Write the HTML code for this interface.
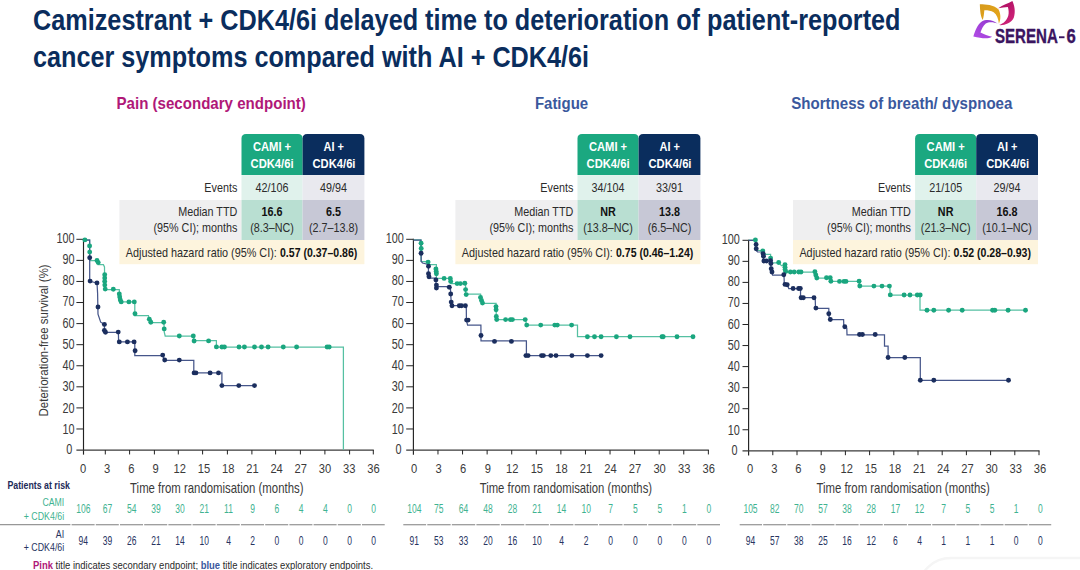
<!DOCTYPE html>
<html><head><meta charset="utf-8"><title>SERENA-6 patient-reported symptoms</title>
<style>
html,body{margin:0;padding:0;background:#fff;}
body{width:1080px;height:570px;overflow:hidden;font-family:"Liberation Sans",sans-serif;}
svg{display:block;font-family:"Liberation Sans",sans-serif;}
text{white-space:pre;}
</style></head><body>
<svg width="1080" height="570" viewBox="0 0 1080 570">
<rect width="1080" height="570" fill="#fff"/>
<text transform="translate(33.00 30.20) scale(0.8305 1)" font-size="30.4" font-weight="bold" fill="#0a2d5d">Camizestrant + CDK4/6i delayed time to deterioration of patient-reported</text>
<text transform="translate(33.00 67.20) scale(0.8298 1)" font-size="30.4" font-weight="bold" fill="#0a2d5d">cancer symptoms compared with AI + CDK4/6i</text>
<text transform="translate(116.50 109.20) scale(0.9551 1)" font-size="15.8" font-weight="bold" fill="#b01878">Pain (secondary endpoint)</text>
<text transform="translate(534.90 109.20) scale(0.9487 1)" font-size="15.8" font-weight="bold" fill="#3a589d">Fatigue</text>
<text transform="translate(791.20 109.20) scale(0.9548 1)" font-size="15.8" font-weight="bold" fill="#3a589d">Shortness of breath/ dyspnoea</text>
<path d="M241.50 175.1 V138.40 Q241.50 133.9 246.00 133.9 H298.10 Q302.60 133.9 302.60 138.40 V175.1 Z" fill="#1ba880"/>
<path d="M302.60 175.1 V138.40 Q302.60 133.9 307.10 133.9 H359.90 Q364.40 133.9 364.40 138.40 V175.1 Z" fill="#0a2d5d"/>
<rect x="241.50" y="175.10" width="61.10" height="24.90" fill="#e0f2ec"/>
<rect x="302.60" y="175.10" width="61.80" height="24.90" fill="#e9e9ef"/>
<rect x="119.40" y="200.00" width="122.10" height="40.00" fill="#efeff0"/>
<rect x="241.50" y="200.00" width="61.10" height="40.00" fill="#b9dfd2"/>
<rect x="302.60" y="200.00" width="61.80" height="40.00" fill="#c7c8d6"/>
<rect x="119.40" y="240.00" width="245.00" height="24.20" fill="#fdf4dd"/>
<text transform="translate(272.05 151.20) scale(0.8469 1)" font-size="13.2" font-weight="bold" text-anchor="middle" fill="#fff">CAMI +</text>
<text transform="translate(272.05 167.70) scale(0.8495 1)" font-size="13.2" font-weight="bold" text-anchor="middle" fill="#fff">CDK4/6i</text>
<text transform="translate(333.70 151.20) scale(0.8301 1)" font-size="13.2" font-weight="bold" text-anchor="middle" fill="#fff">AI +</text>
<text transform="translate(334.00 167.70) scale(0.8495 1)" font-size="13.2" font-weight="bold" text-anchor="middle" fill="#fff">CDK4/6i</text>
<text transform="translate(237.30 191.90) scale(0.8420 1)" font-size="12.8" text-anchor="end" fill="#2b2b2b">Events</text>
<text transform="translate(272.05 191.90) scale(0.8420 1)" font-size="12.8" text-anchor="middle" fill="#2b2b2b">42/106</text>
<text transform="translate(333.50 191.90) scale(0.8420 1)" font-size="12.8" text-anchor="middle" fill="#2b2b2b">49/94</text>
<text transform="translate(237.30 215.80) scale(0.8420 1)" font-size="12.8" text-anchor="end" fill="#2b2b2b">Median TTD</text>
<text transform="translate(237.30 231.90) scale(0.8420 1)" font-size="12.8" text-anchor="end" fill="#2b2b2b">(95% CI); months</text>
<text transform="translate(272.05 215.80) scale(0.8420 1)" font-size="12.8" font-weight="bold" text-anchor="middle" fill="#111">16.6</text>
<text transform="translate(333.50 215.80) scale(0.8420 1)" font-size="12.8" font-weight="bold" text-anchor="middle" fill="#111">6.5</text>
<text transform="translate(272.05 231.90) scale(0.8420 1)" font-size="12.8" text-anchor="middle" fill="#2b2b2b">(8.3–NC)</text>
<text transform="translate(333.50 231.90) scale(0.8420 1)" font-size="12.8" text-anchor="middle" fill="#2b2b2b">(2.7–13.8)</text>
<text transform="translate(125.80 256.80) scale(0.8466 1)" font-size="12.8" fill="#2b2b2b">Adjusted hazard ratio (95% CI): </text>
<text transform="translate(280.00 256.80) scale(0.8229 1)" font-size="12.8" font-weight="bold" fill="#111">0.57 (0.37–0.86)</text>
<path d="M577.50 175.1 V138.40 Q577.50 133.9 582.00 133.9 H634.10 Q638.60 133.9 638.60 138.40 V175.1 Z" fill="#1ba880"/>
<path d="M638.60 175.1 V138.40 Q638.60 133.9 643.10 133.9 H695.90 Q700.40 133.9 700.40 138.40 V175.1 Z" fill="#0a2d5d"/>
<rect x="577.50" y="175.10" width="61.10" height="24.90" fill="#e0f2ec"/>
<rect x="638.60" y="175.10" width="61.80" height="24.90" fill="#e9e9ef"/>
<rect x="455.40" y="200.00" width="122.10" height="40.00" fill="#efeff0"/>
<rect x="577.50" y="200.00" width="61.10" height="40.00" fill="#b9dfd2"/>
<rect x="638.60" y="200.00" width="61.80" height="40.00" fill="#c7c8d6"/>
<rect x="455.40" y="240.00" width="245.00" height="24.20" fill="#fdf4dd"/>
<text transform="translate(608.05 151.20) scale(0.8469 1)" font-size="13.2" font-weight="bold" text-anchor="middle" fill="#fff">CAMI +</text>
<text transform="translate(608.05 167.70) scale(0.8495 1)" font-size="13.2" font-weight="bold" text-anchor="middle" fill="#fff">CDK4/6i</text>
<text transform="translate(669.70 151.20) scale(0.8301 1)" font-size="13.2" font-weight="bold" text-anchor="middle" fill="#fff">AI +</text>
<text transform="translate(670.00 167.70) scale(0.8495 1)" font-size="13.2" font-weight="bold" text-anchor="middle" fill="#fff">CDK4/6i</text>
<text transform="translate(573.30 191.90) scale(0.8420 1)" font-size="12.8" text-anchor="end" fill="#2b2b2b">Events</text>
<text transform="translate(608.05 191.90) scale(0.8420 1)" font-size="12.8" text-anchor="middle" fill="#2b2b2b">34/104</text>
<text transform="translate(669.50 191.90) scale(0.8420 1)" font-size="12.8" text-anchor="middle" fill="#2b2b2b">33/91</text>
<text transform="translate(573.30 215.80) scale(0.8420 1)" font-size="12.8" text-anchor="end" fill="#2b2b2b">Median TTD</text>
<text transform="translate(573.30 231.90) scale(0.8420 1)" font-size="12.8" text-anchor="end" fill="#2b2b2b">(95% CI); months</text>
<text transform="translate(608.05 215.80) scale(0.8420 1)" font-size="12.8" font-weight="bold" text-anchor="middle" fill="#111">NR</text>
<text transform="translate(669.50 215.80) scale(0.8420 1)" font-size="12.8" font-weight="bold" text-anchor="middle" fill="#111">13.8</text>
<text transform="translate(608.05 231.90) scale(0.8420 1)" font-size="12.8" text-anchor="middle" fill="#2b2b2b">(13.8–NC)</text>
<text transform="translate(669.50 231.90) scale(0.8420 1)" font-size="12.8" text-anchor="middle" fill="#2b2b2b">(6.5–NC)</text>
<text transform="translate(461.80 256.80) scale(0.8466 1)" font-size="12.8" fill="#2b2b2b">Adjusted hazard ratio (95% CI): </text>
<text transform="translate(616.00 256.80) scale(0.8229 1)" font-size="12.8" font-weight="bold" fill="#111">0.75 (0.46–1.24)</text>
<path d="M915.10 175.1 V138.40 Q915.10 133.9 919.60 133.9 H971.70 Q976.20 133.9 976.20 138.40 V175.1 Z" fill="#1ba880"/>
<path d="M976.20 175.1 V138.40 Q976.20 133.9 980.70 133.9 H1033.50 Q1038.00 133.9 1038.00 138.40 V175.1 Z" fill="#0a2d5d"/>
<rect x="915.10" y="175.10" width="61.10" height="24.90" fill="#e0f2ec"/>
<rect x="976.20" y="175.10" width="61.80" height="24.90" fill="#e9e9ef"/>
<rect x="793.00" y="200.00" width="122.10" height="40.00" fill="#efeff0"/>
<rect x="915.10" y="200.00" width="61.10" height="40.00" fill="#b9dfd2"/>
<rect x="976.20" y="200.00" width="61.80" height="40.00" fill="#c7c8d6"/>
<rect x="793.00" y="240.00" width="245.00" height="24.20" fill="#fdf4dd"/>
<text transform="translate(945.65 151.20) scale(0.8469 1)" font-size="13.2" font-weight="bold" text-anchor="middle" fill="#fff">CAMI +</text>
<text transform="translate(945.65 167.70) scale(0.8495 1)" font-size="13.2" font-weight="bold" text-anchor="middle" fill="#fff">CDK4/6i</text>
<text transform="translate(1007.30 151.20) scale(0.8301 1)" font-size="13.2" font-weight="bold" text-anchor="middle" fill="#fff">AI +</text>
<text transform="translate(1007.60 167.70) scale(0.8495 1)" font-size="13.2" font-weight="bold" text-anchor="middle" fill="#fff">CDK4/6i</text>
<text transform="translate(910.90 191.90) scale(0.8420 1)" font-size="12.8" text-anchor="end" fill="#2b2b2b">Events</text>
<text transform="translate(945.65 191.90) scale(0.8420 1)" font-size="12.8" text-anchor="middle" fill="#2b2b2b">21/105</text>
<text transform="translate(1007.10 191.90) scale(0.8420 1)" font-size="12.8" text-anchor="middle" fill="#2b2b2b">29/94</text>
<text transform="translate(910.90 215.80) scale(0.8420 1)" font-size="12.8" text-anchor="end" fill="#2b2b2b">Median TTD</text>
<text transform="translate(910.90 231.90) scale(0.8420 1)" font-size="12.8" text-anchor="end" fill="#2b2b2b">(95% CI); months</text>
<text transform="translate(945.65 215.80) scale(0.8420 1)" font-size="12.8" font-weight="bold" text-anchor="middle" fill="#111">NR</text>
<text transform="translate(1007.10 215.80) scale(0.8420 1)" font-size="12.8" font-weight="bold" text-anchor="middle" fill="#111">16.8</text>
<text transform="translate(945.65 231.90) scale(0.8420 1)" font-size="12.8" text-anchor="middle" fill="#2b2b2b">(21.3–NC)</text>
<text transform="translate(1007.10 231.90) scale(0.8420 1)" font-size="12.8" text-anchor="middle" fill="#2b2b2b">(10.1–NC)</text>
<text transform="translate(799.40 256.80) scale(0.8466 1)" font-size="12.8" fill="#2b2b2b">Adjusted hazard ratio (95% CI): </text>
<text transform="translate(953.60 256.80) scale(0.8229 1)" font-size="12.8" font-weight="bold" fill="#111">0.52 (0.28–0.93)</text>
<line x1="83.50" y1="238.80" x2="83.50" y2="454.65" stroke="#222" stroke-width="1.15"/>
<line x1="76.40" y1="450.05" x2="373.80" y2="450.05" stroke="#3a3a3a" stroke-width="1.35"/>
<text transform="translate(72.40 453.80) scale(0.7500 1)" font-size="14.5" text-anchor="end" fill="#3a3a3a">0</text>
<line x1="76.40" y1="428.98" x2="83.50" y2="428.98" stroke="#222" stroke-width="1.0"/>
<text transform="translate(74.60 433.94) scale(0.7500 1)" font-size="14.5" text-anchor="end" fill="#3a3a3a">10</text>
<line x1="76.40" y1="407.90" x2="83.50" y2="407.90" stroke="#222" stroke-width="1.0"/>
<text transform="translate(74.60 412.67) scale(0.7500 1)" font-size="14.5" text-anchor="end" fill="#3a3a3a">20</text>
<line x1="76.40" y1="386.82" x2="83.50" y2="386.82" stroke="#222" stroke-width="1.0"/>
<text transform="translate(74.60 391.40) scale(0.7500 1)" font-size="14.5" text-anchor="end" fill="#3a3a3a">30</text>
<line x1="76.40" y1="365.75" x2="83.50" y2="365.75" stroke="#222" stroke-width="1.0"/>
<text transform="translate(74.60 370.14) scale(0.7500 1)" font-size="14.5" text-anchor="end" fill="#3a3a3a">40</text>
<line x1="76.40" y1="344.68" x2="83.50" y2="344.68" stroke="#222" stroke-width="1.0"/>
<text transform="translate(74.60 348.88) scale(0.7500 1)" font-size="14.5" text-anchor="end" fill="#3a3a3a">50</text>
<line x1="76.40" y1="323.60" x2="83.50" y2="323.60" stroke="#222" stroke-width="1.0"/>
<text transform="translate(74.60 327.61) scale(0.7500 1)" font-size="14.5" text-anchor="end" fill="#3a3a3a">60</text>
<line x1="76.40" y1="302.52" x2="83.50" y2="302.52" stroke="#222" stroke-width="1.0"/>
<text transform="translate(74.60 306.34) scale(0.7500 1)" font-size="14.5" text-anchor="end" fill="#3a3a3a">70</text>
<line x1="76.40" y1="281.45" x2="83.50" y2="281.45" stroke="#222" stroke-width="1.0"/>
<text transform="translate(74.60 285.08) scale(0.7500 1)" font-size="14.5" text-anchor="end" fill="#3a3a3a">80</text>
<line x1="76.40" y1="260.38" x2="83.50" y2="260.38" stroke="#222" stroke-width="1.0"/>
<text transform="translate(74.60 263.81) scale(0.7500 1)" font-size="14.5" text-anchor="end" fill="#3a3a3a">90</text>
<line x1="76.40" y1="239.30" x2="83.50" y2="239.30" stroke="#222" stroke-width="1.0"/>
<text transform="translate(74.60 242.55) scale(0.7500 1)" font-size="14.5" text-anchor="end" fill="#3a3a3a">100</text>
<text transform="translate(83.00 473.00) scale(0.8400 1)" font-size="13.3" text-anchor="middle" fill="#3a3a3a">0</text>
<line x1="105.30" y1="450.05" x2="105.30" y2="454.45" stroke="#222" stroke-width="1.0"/>
<text transform="translate(107.20 473.00) scale(0.8400 1)" font-size="13.3" text-anchor="middle" fill="#3a3a3a">3</text>
<line x1="129.60" y1="450.05" x2="129.60" y2="454.45" stroke="#222" stroke-width="1.0"/>
<text transform="translate(131.40 473.00) scale(0.8400 1)" font-size="13.3" text-anchor="middle" fill="#3a3a3a">6</text>
<line x1="154.40" y1="450.05" x2="154.40" y2="454.45" stroke="#222" stroke-width="1.0"/>
<text transform="translate(155.60 473.00) scale(0.8400 1)" font-size="13.3" text-anchor="middle" fill="#3a3a3a">9</text>
<line x1="178.30" y1="450.05" x2="178.30" y2="454.45" stroke="#222" stroke-width="1.0"/>
<text transform="translate(179.80 473.00) scale(0.8400 1)" font-size="13.3" text-anchor="middle" fill="#3a3a3a">12</text>
<line x1="202.60" y1="450.05" x2="202.60" y2="454.45" stroke="#222" stroke-width="1.0"/>
<text transform="translate(204.00 473.00) scale(0.8400 1)" font-size="13.3" text-anchor="middle" fill="#3a3a3a">15</text>
<line x1="227.40" y1="450.05" x2="227.40" y2="454.45" stroke="#222" stroke-width="1.0"/>
<text transform="translate(228.20 473.00) scale(0.8400 1)" font-size="13.3" text-anchor="middle" fill="#3a3a3a">18</text>
<line x1="251.90" y1="450.05" x2="251.90" y2="454.45" stroke="#222" stroke-width="1.0"/>
<text transform="translate(252.40 473.00) scale(0.8400 1)" font-size="13.3" text-anchor="middle" fill="#3a3a3a">21</text>
<line x1="275.60" y1="450.05" x2="275.60" y2="454.45" stroke="#222" stroke-width="1.0"/>
<text transform="translate(276.60 473.00) scale(0.8400 1)" font-size="13.3" text-anchor="middle" fill="#3a3a3a">24</text>
<line x1="300.40" y1="450.05" x2="300.40" y2="454.45" stroke="#222" stroke-width="1.0"/>
<text transform="translate(300.80 473.00) scale(0.8400 1)" font-size="13.3" text-anchor="middle" fill="#3a3a3a">27</text>
<line x1="324.90" y1="450.05" x2="324.90" y2="454.45" stroke="#222" stroke-width="1.0"/>
<text transform="translate(325.00 473.00) scale(0.8400 1)" font-size="13.3" text-anchor="middle" fill="#3a3a3a">30</text>
<line x1="349.60" y1="450.05" x2="349.60" y2="454.45" stroke="#222" stroke-width="1.0"/>
<text transform="translate(349.20 473.00) scale(0.8400 1)" font-size="13.3" text-anchor="middle" fill="#3a3a3a">33</text>
<line x1="373.30" y1="450.05" x2="373.30" y2="454.45" stroke="#222" stroke-width="1.0"/>
<text transform="translate(373.40 473.00) scale(0.8400 1)" font-size="13.3" text-anchor="middle" fill="#3a3a3a">36</text>
<text transform="translate(130.10 493.20) scale(0.8010 1)" font-size="14.2" fill="#3a3a3a">Time from randomisation (months)</text>
<line x1="413.40" y1="238.80" x2="413.40" y2="454.65" stroke="#222" stroke-width="1.15"/>
<line x1="406.20" y1="450.05" x2="708.86" y2="450.05" stroke="#3a3a3a" stroke-width="1.35"/>
<text transform="translate(401.60 453.80) scale(0.7500 1)" font-size="14.5" text-anchor="end" fill="#3a3a3a">0</text>
<line x1="406.20" y1="428.98" x2="413.40" y2="428.98" stroke="#222" stroke-width="1.0"/>
<text transform="translate(403.80 433.94) scale(0.7500 1)" font-size="14.5" text-anchor="end" fill="#3a3a3a">10</text>
<line x1="406.20" y1="407.90" x2="413.40" y2="407.90" stroke="#222" stroke-width="1.0"/>
<text transform="translate(403.80 412.67) scale(0.7500 1)" font-size="14.5" text-anchor="end" fill="#3a3a3a">20</text>
<line x1="406.20" y1="386.82" x2="413.40" y2="386.82" stroke="#222" stroke-width="1.0"/>
<text transform="translate(403.80 391.40) scale(0.7500 1)" font-size="14.5" text-anchor="end" fill="#3a3a3a">30</text>
<line x1="406.20" y1="365.75" x2="413.40" y2="365.75" stroke="#222" stroke-width="1.0"/>
<text transform="translate(403.80 370.14) scale(0.7500 1)" font-size="14.5" text-anchor="end" fill="#3a3a3a">40</text>
<line x1="406.20" y1="344.68" x2="413.40" y2="344.68" stroke="#222" stroke-width="1.0"/>
<text transform="translate(403.80 348.88) scale(0.7500 1)" font-size="14.5" text-anchor="end" fill="#3a3a3a">50</text>
<line x1="406.20" y1="323.60" x2="413.40" y2="323.60" stroke="#222" stroke-width="1.0"/>
<text transform="translate(403.80 327.61) scale(0.7500 1)" font-size="14.5" text-anchor="end" fill="#3a3a3a">60</text>
<line x1="406.20" y1="302.52" x2="413.40" y2="302.52" stroke="#222" stroke-width="1.0"/>
<text transform="translate(403.80 306.34) scale(0.7500 1)" font-size="14.5" text-anchor="end" fill="#3a3a3a">70</text>
<line x1="406.20" y1="281.45" x2="413.40" y2="281.45" stroke="#222" stroke-width="1.0"/>
<text transform="translate(403.80 285.08) scale(0.7500 1)" font-size="14.5" text-anchor="end" fill="#3a3a3a">80</text>
<line x1="406.20" y1="260.38" x2="413.40" y2="260.38" stroke="#222" stroke-width="1.0"/>
<text transform="translate(403.80 263.81) scale(0.7500 1)" font-size="14.5" text-anchor="end" fill="#3a3a3a">90</text>
<line x1="406.20" y1="239.30" x2="413.40" y2="239.30" stroke="#222" stroke-width="1.0"/>
<text transform="translate(403.80 242.55) scale(0.7500 1)" font-size="14.5" text-anchor="end" fill="#3a3a3a">100</text>
<text transform="translate(414.10 473.00) scale(0.8400 1)" font-size="13.3" text-anchor="middle" fill="#3a3a3a">0</text>
<line x1="437.98" y1="450.05" x2="437.98" y2="454.45" stroke="#222" stroke-width="1.0"/>
<text transform="translate(438.65 473.00) scale(0.8400 1)" font-size="13.3" text-anchor="middle" fill="#3a3a3a">3</text>
<line x1="462.56" y1="450.05" x2="462.56" y2="454.45" stroke="#222" stroke-width="1.0"/>
<text transform="translate(463.20 473.00) scale(0.8400 1)" font-size="13.3" text-anchor="middle" fill="#3a3a3a">6</text>
<line x1="487.14" y1="450.05" x2="487.14" y2="454.45" stroke="#222" stroke-width="1.0"/>
<text transform="translate(487.75 473.00) scale(0.8400 1)" font-size="13.3" text-anchor="middle" fill="#3a3a3a">9</text>
<line x1="511.72" y1="450.05" x2="511.72" y2="454.45" stroke="#222" stroke-width="1.0"/>
<text transform="translate(512.30 473.00) scale(0.8400 1)" font-size="13.3" text-anchor="middle" fill="#3a3a3a">12</text>
<line x1="536.30" y1="450.05" x2="536.30" y2="454.45" stroke="#222" stroke-width="1.0"/>
<text transform="translate(536.85 473.00) scale(0.8400 1)" font-size="13.3" text-anchor="middle" fill="#3a3a3a">15</text>
<line x1="560.88" y1="450.05" x2="560.88" y2="454.45" stroke="#222" stroke-width="1.0"/>
<text transform="translate(561.40 473.00) scale(0.8400 1)" font-size="13.3" text-anchor="middle" fill="#3a3a3a">18</text>
<line x1="585.46" y1="450.05" x2="585.46" y2="454.45" stroke="#222" stroke-width="1.0"/>
<text transform="translate(585.95 473.00) scale(0.8400 1)" font-size="13.3" text-anchor="middle" fill="#3a3a3a">21</text>
<line x1="610.04" y1="450.05" x2="610.04" y2="454.45" stroke="#222" stroke-width="1.0"/>
<text transform="translate(610.50 473.00) scale(0.8400 1)" font-size="13.3" text-anchor="middle" fill="#3a3a3a">24</text>
<line x1="634.62" y1="450.05" x2="634.62" y2="454.45" stroke="#222" stroke-width="1.0"/>
<text transform="translate(635.05 473.00) scale(0.8400 1)" font-size="13.3" text-anchor="middle" fill="#3a3a3a">27</text>
<line x1="659.20" y1="450.05" x2="659.20" y2="454.45" stroke="#222" stroke-width="1.0"/>
<text transform="translate(659.60 473.00) scale(0.8400 1)" font-size="13.3" text-anchor="middle" fill="#3a3a3a">30</text>
<line x1="683.78" y1="450.05" x2="683.78" y2="454.45" stroke="#222" stroke-width="1.0"/>
<text transform="translate(684.15 473.00) scale(0.8400 1)" font-size="13.3" text-anchor="middle" fill="#3a3a3a">33</text>
<line x1="708.36" y1="450.05" x2="708.36" y2="454.45" stroke="#222" stroke-width="1.0"/>
<text transform="translate(708.70 473.00) scale(0.8400 1)" font-size="13.3" text-anchor="middle" fill="#3a3a3a">36</text>
<text transform="translate(479.70 493.20) scale(0.7968 1)" font-size="14.2" fill="#3a3a3a">Time from randomisation (months)</text>
<line x1="748.60" y1="239.80" x2="748.60" y2="455.40" stroke="#222" stroke-width="1.15"/>
<line x1="742.50" y1="450.80" x2="1039.50" y2="450.80" stroke="#3a3a3a" stroke-width="1.35"/>
<text transform="translate(737.60 454.55) scale(0.7500 1)" font-size="14.5" text-anchor="end" fill="#3a3a3a">0</text>
<line x1="742.50" y1="429.75" x2="748.60" y2="429.75" stroke="#222" stroke-width="1.0"/>
<text transform="translate(739.80 434.71) scale(0.7500 1)" font-size="14.5" text-anchor="end" fill="#3a3a3a">10</text>
<line x1="742.50" y1="408.70" x2="748.60" y2="408.70" stroke="#222" stroke-width="1.0"/>
<text transform="translate(739.80 413.47) scale(0.7500 1)" font-size="14.5" text-anchor="end" fill="#3a3a3a">20</text>
<line x1="742.50" y1="387.65" x2="748.60" y2="387.65" stroke="#222" stroke-width="1.0"/>
<text transform="translate(739.80 392.23) scale(0.7500 1)" font-size="14.5" text-anchor="end" fill="#3a3a3a">30</text>
<line x1="742.50" y1="366.60" x2="748.60" y2="366.60" stroke="#222" stroke-width="1.0"/>
<text transform="translate(739.80 370.99) scale(0.7500 1)" font-size="14.5" text-anchor="end" fill="#3a3a3a">40</text>
<line x1="742.50" y1="345.55" x2="748.60" y2="345.55" stroke="#222" stroke-width="1.0"/>
<text transform="translate(739.80 349.75) scale(0.7500 1)" font-size="14.5" text-anchor="end" fill="#3a3a3a">50</text>
<line x1="742.50" y1="324.50" x2="748.60" y2="324.50" stroke="#222" stroke-width="1.0"/>
<text transform="translate(739.80 328.51) scale(0.7500 1)" font-size="14.5" text-anchor="end" fill="#3a3a3a">60</text>
<line x1="742.50" y1="303.45" x2="748.60" y2="303.45" stroke="#222" stroke-width="1.0"/>
<text transform="translate(739.80 307.27) scale(0.7500 1)" font-size="14.5" text-anchor="end" fill="#3a3a3a">70</text>
<line x1="742.50" y1="282.40" x2="748.60" y2="282.40" stroke="#222" stroke-width="1.0"/>
<text transform="translate(739.80 286.03) scale(0.7500 1)" font-size="14.5" text-anchor="end" fill="#3a3a3a">80</text>
<line x1="742.50" y1="261.35" x2="748.60" y2="261.35" stroke="#222" stroke-width="1.0"/>
<text transform="translate(739.80 264.79) scale(0.7500 1)" font-size="14.5" text-anchor="end" fill="#3a3a3a">90</text>
<line x1="742.50" y1="240.30" x2="748.60" y2="240.30" stroke="#222" stroke-width="1.0"/>
<text transform="translate(739.80 243.55) scale(0.7500 1)" font-size="14.5" text-anchor="end" fill="#3a3a3a">100</text>
<text transform="translate(750.10 473.00) scale(0.8400 1)" font-size="13.3" text-anchor="middle" fill="#3a3a3a">0</text>
<line x1="772.80" y1="450.80" x2="772.80" y2="455.20" stroke="#222" stroke-width="1.0"/>
<text transform="translate(774.25 473.00) scale(0.8400 1)" font-size="13.3" text-anchor="middle" fill="#3a3a3a">3</text>
<line x1="797.00" y1="450.80" x2="797.00" y2="455.20" stroke="#222" stroke-width="1.0"/>
<text transform="translate(798.40 473.00) scale(0.8400 1)" font-size="13.3" text-anchor="middle" fill="#3a3a3a">6</text>
<line x1="821.20" y1="450.80" x2="821.20" y2="455.20" stroke="#222" stroke-width="1.0"/>
<text transform="translate(822.55 473.00) scale(0.8400 1)" font-size="13.3" text-anchor="middle" fill="#3a3a3a">9</text>
<line x1="845.40" y1="450.80" x2="845.40" y2="455.20" stroke="#222" stroke-width="1.0"/>
<text transform="translate(846.70 473.00) scale(0.8400 1)" font-size="13.3" text-anchor="middle" fill="#3a3a3a">12</text>
<line x1="869.60" y1="450.80" x2="869.60" y2="455.20" stroke="#222" stroke-width="1.0"/>
<text transform="translate(870.85 473.00) scale(0.8400 1)" font-size="13.3" text-anchor="middle" fill="#3a3a3a">15</text>
<line x1="893.80" y1="450.80" x2="893.80" y2="455.20" stroke="#222" stroke-width="1.0"/>
<text transform="translate(895.00 473.00) scale(0.8400 1)" font-size="13.3" text-anchor="middle" fill="#3a3a3a">18</text>
<line x1="918.00" y1="450.80" x2="918.00" y2="455.20" stroke="#222" stroke-width="1.0"/>
<text transform="translate(919.15 473.00) scale(0.8400 1)" font-size="13.3" text-anchor="middle" fill="#3a3a3a">21</text>
<line x1="942.20" y1="450.80" x2="942.20" y2="455.20" stroke="#222" stroke-width="1.0"/>
<text transform="translate(943.30 473.00) scale(0.8400 1)" font-size="13.3" text-anchor="middle" fill="#3a3a3a">24</text>
<line x1="966.40" y1="450.80" x2="966.40" y2="455.20" stroke="#222" stroke-width="1.0"/>
<text transform="translate(967.45 473.00) scale(0.8400 1)" font-size="13.3" text-anchor="middle" fill="#3a3a3a">27</text>
<line x1="990.60" y1="450.80" x2="990.60" y2="455.20" stroke="#222" stroke-width="1.0"/>
<text transform="translate(991.60 473.00) scale(0.8400 1)" font-size="13.3" text-anchor="middle" fill="#3a3a3a">30</text>
<line x1="1014.80" y1="450.80" x2="1014.80" y2="455.20" stroke="#222" stroke-width="1.0"/>
<text transform="translate(1015.75 473.00) scale(0.8400 1)" font-size="13.3" text-anchor="middle" fill="#3a3a3a">33</text>
<line x1="1039.00" y1="450.80" x2="1039.00" y2="455.20" stroke="#222" stroke-width="1.0"/>
<text transform="translate(1039.90 473.00) scale(0.8400 1)" font-size="13.3" text-anchor="middle" fill="#3a3a3a">36</text>
<text transform="translate(816.40 493.20) scale(0.8010 1)" font-size="14.2" fill="#3a3a3a">Time from randomisation (months)</text>
<text transform="translate(47.6 416.4) rotate(-90) scale(0.8552 1)" font-size="13.4" fill="#3a3a3a">Deterioration-free survival (%)</text>
<text transform="translate(7.40 488.60) scale(0.8380 1)" font-size="10.5" font-weight="bold" fill="#1c2a58">Patients at risk</text>
<text transform="translate(64.20 505.80) scale(0.8000 1)" font-size="10.9" text-anchor="end" fill="#3fb391">CAMI</text>
<text transform="translate(64.20 519.60) scale(0.8100 1)" font-size="10.9" text-anchor="end" fill="#3fb391">+ CDK4/6i</text>
<text transform="translate(64.20 537.90) scale(0.8100 1)" font-size="10.9" text-anchor="end" fill="#27345f">AI</text>
<text transform="translate(64.20 550.90) scale(0.8100 1)" font-size="10.9" text-anchor="end" fill="#27345f">+ CDK4/6i</text>
<text transform="translate(83.30 513.40) scale(0.6450 1)" font-size="13.2" text-anchor="middle" fill="#3fb391">106</text>
<text transform="translate(83.30 544.70) scale(0.6450 1)" font-size="13.2" text-anchor="middle" fill="#27345f">94</text>
<text transform="translate(107.50 513.40) scale(0.6450 1)" font-size="13.2" text-anchor="middle" fill="#3fb391">67</text>
<text transform="translate(107.50 544.70) scale(0.6450 1)" font-size="13.2" text-anchor="middle" fill="#27345f">39</text>
<text transform="translate(131.70 513.40) scale(0.6450 1)" font-size="13.2" text-anchor="middle" fill="#3fb391">54</text>
<text transform="translate(131.70 544.70) scale(0.6450 1)" font-size="13.2" text-anchor="middle" fill="#27345f">26</text>
<text transform="translate(155.90 513.40) scale(0.6450 1)" font-size="13.2" text-anchor="middle" fill="#3fb391">39</text>
<text transform="translate(155.90 544.70) scale(0.6450 1)" font-size="13.2" text-anchor="middle" fill="#27345f">21</text>
<text transform="translate(180.10 513.40) scale(0.6450 1)" font-size="13.2" text-anchor="middle" fill="#3fb391">30</text>
<text transform="translate(180.10 544.70) scale(0.6450 1)" font-size="13.2" text-anchor="middle" fill="#27345f">14</text>
<text transform="translate(204.30 513.40) scale(0.6450 1)" font-size="13.2" text-anchor="middle" fill="#3fb391">21</text>
<text transform="translate(204.30 544.70) scale(0.6450 1)" font-size="13.2" text-anchor="middle" fill="#27345f">10</text>
<text transform="translate(228.50 513.40) scale(0.6450 1)" font-size="13.2" text-anchor="middle" fill="#3fb391">11</text>
<text transform="translate(228.50 544.70) scale(0.6450 1)" font-size="13.2" text-anchor="middle" fill="#27345f">4</text>
<text transform="translate(252.70 513.40) scale(0.6450 1)" font-size="13.2" text-anchor="middle" fill="#3fb391">9</text>
<text transform="translate(252.70 544.70) scale(0.6450 1)" font-size="13.2" text-anchor="middle" fill="#27345f">2</text>
<text transform="translate(276.90 513.40) scale(0.6450 1)" font-size="13.2" text-anchor="middle" fill="#3fb391">6</text>
<text transform="translate(276.90 544.70) scale(0.6450 1)" font-size="13.2" text-anchor="middle" fill="#27345f">0</text>
<text transform="translate(301.10 513.40) scale(0.6450 1)" font-size="13.2" text-anchor="middle" fill="#3fb391">4</text>
<text transform="translate(301.10 544.70) scale(0.6450 1)" font-size="13.2" text-anchor="middle" fill="#27345f">0</text>
<text transform="translate(325.30 513.40) scale(0.6450 1)" font-size="13.2" text-anchor="middle" fill="#3fb391">4</text>
<text transform="translate(325.30 544.70) scale(0.6450 1)" font-size="13.2" text-anchor="middle" fill="#27345f">0</text>
<text transform="translate(349.50 513.40) scale(0.6450 1)" font-size="13.2" text-anchor="middle" fill="#3fb391">0</text>
<text transform="translate(349.50 544.70) scale(0.6450 1)" font-size="13.2" text-anchor="middle" fill="#27345f">0</text>
<text transform="translate(373.70 513.40) scale(0.6450 1)" font-size="13.2" text-anchor="middle" fill="#3fb391">0</text>
<text transform="translate(373.70 544.70) scale(0.6450 1)" font-size="13.2" text-anchor="middle" fill="#27345f">0</text>
<text transform="translate(414.30 513.40) scale(0.6450 1)" font-size="13.2" text-anchor="middle" fill="#3fb391">104</text>
<text transform="translate(414.30 544.70) scale(0.6450 1)" font-size="13.2" text-anchor="middle" fill="#27345f">91</text>
<text transform="translate(438.85 513.40) scale(0.6450 1)" font-size="13.2" text-anchor="middle" fill="#3fb391">75</text>
<text transform="translate(438.85 544.70) scale(0.6450 1)" font-size="13.2" text-anchor="middle" fill="#27345f">53</text>
<text transform="translate(463.40 513.40) scale(0.6450 1)" font-size="13.2" text-anchor="middle" fill="#3fb391">64</text>
<text transform="translate(463.40 544.70) scale(0.6450 1)" font-size="13.2" text-anchor="middle" fill="#27345f">33</text>
<text transform="translate(487.95 513.40) scale(0.6450 1)" font-size="13.2" text-anchor="middle" fill="#3fb391">48</text>
<text transform="translate(487.95 544.70) scale(0.6450 1)" font-size="13.2" text-anchor="middle" fill="#27345f">20</text>
<text transform="translate(512.50 513.40) scale(0.6450 1)" font-size="13.2" text-anchor="middle" fill="#3fb391">28</text>
<text transform="translate(512.50 544.70) scale(0.6450 1)" font-size="13.2" text-anchor="middle" fill="#27345f">16</text>
<text transform="translate(537.05 513.40) scale(0.6450 1)" font-size="13.2" text-anchor="middle" fill="#3fb391">21</text>
<text transform="translate(537.05 544.70) scale(0.6450 1)" font-size="13.2" text-anchor="middle" fill="#27345f">10</text>
<text transform="translate(561.60 513.40) scale(0.6450 1)" font-size="13.2" text-anchor="middle" fill="#3fb391">14</text>
<text transform="translate(561.60 544.70) scale(0.6450 1)" font-size="13.2" text-anchor="middle" fill="#27345f">4</text>
<text transform="translate(586.15 513.40) scale(0.6450 1)" font-size="13.2" text-anchor="middle" fill="#3fb391">10</text>
<text transform="translate(586.15 544.70) scale(0.6450 1)" font-size="13.2" text-anchor="middle" fill="#27345f">2</text>
<text transform="translate(610.70 513.40) scale(0.6450 1)" font-size="13.2" text-anchor="middle" fill="#3fb391">7</text>
<text transform="translate(610.70 544.70) scale(0.6450 1)" font-size="13.2" text-anchor="middle" fill="#27345f">0</text>
<text transform="translate(635.25 513.40) scale(0.6450 1)" font-size="13.2" text-anchor="middle" fill="#3fb391">5</text>
<text transform="translate(635.25 544.70) scale(0.6450 1)" font-size="13.2" text-anchor="middle" fill="#27345f">0</text>
<text transform="translate(659.80 513.40) scale(0.6450 1)" font-size="13.2" text-anchor="middle" fill="#3fb391">5</text>
<text transform="translate(659.80 544.70) scale(0.6450 1)" font-size="13.2" text-anchor="middle" fill="#27345f">0</text>
<text transform="translate(684.35 513.40) scale(0.6450 1)" font-size="13.2" text-anchor="middle" fill="#3fb391">1</text>
<text transform="translate(684.35 544.70) scale(0.6450 1)" font-size="13.2" text-anchor="middle" fill="#27345f">0</text>
<text transform="translate(708.90 513.40) scale(0.6450 1)" font-size="13.2" text-anchor="middle" fill="#3fb391">0</text>
<text transform="translate(708.90 544.70) scale(0.6450 1)" font-size="13.2" text-anchor="middle" fill="#27345f">0</text>
<text transform="translate(750.50 513.40) scale(0.6450 1)" font-size="13.2" text-anchor="middle" fill="#3fb391">105</text>
<text transform="translate(750.50 544.70) scale(0.6450 1)" font-size="13.2" text-anchor="middle" fill="#27345f">94</text>
<text transform="translate(774.65 513.40) scale(0.6450 1)" font-size="13.2" text-anchor="middle" fill="#3fb391">82</text>
<text transform="translate(774.65 544.70) scale(0.6450 1)" font-size="13.2" text-anchor="middle" fill="#27345f">57</text>
<text transform="translate(798.80 513.40) scale(0.6450 1)" font-size="13.2" text-anchor="middle" fill="#3fb391">70</text>
<text transform="translate(798.80 544.70) scale(0.6450 1)" font-size="13.2" text-anchor="middle" fill="#27345f">38</text>
<text transform="translate(822.95 513.40) scale(0.6450 1)" font-size="13.2" text-anchor="middle" fill="#3fb391">57</text>
<text transform="translate(822.95 544.70) scale(0.6450 1)" font-size="13.2" text-anchor="middle" fill="#27345f">25</text>
<text transform="translate(847.10 513.40) scale(0.6450 1)" font-size="13.2" text-anchor="middle" fill="#3fb391">38</text>
<text transform="translate(847.10 544.70) scale(0.6450 1)" font-size="13.2" text-anchor="middle" fill="#27345f">16</text>
<text transform="translate(871.25 513.40) scale(0.6450 1)" font-size="13.2" text-anchor="middle" fill="#3fb391">28</text>
<text transform="translate(871.25 544.70) scale(0.6450 1)" font-size="13.2" text-anchor="middle" fill="#27345f">12</text>
<text transform="translate(895.40 513.40) scale(0.6450 1)" font-size="13.2" text-anchor="middle" fill="#3fb391">17</text>
<text transform="translate(895.40 544.70) scale(0.6450 1)" font-size="13.2" text-anchor="middle" fill="#27345f">6</text>
<text transform="translate(919.55 513.40) scale(0.6450 1)" font-size="13.2" text-anchor="middle" fill="#3fb391">12</text>
<text transform="translate(919.55 544.70) scale(0.6450 1)" font-size="13.2" text-anchor="middle" fill="#27345f">4</text>
<text transform="translate(943.70 513.40) scale(0.6450 1)" font-size="13.2" text-anchor="middle" fill="#3fb391">7</text>
<text transform="translate(943.70 544.70) scale(0.6450 1)" font-size="13.2" text-anchor="middle" fill="#27345f">1</text>
<text transform="translate(967.85 513.40) scale(0.6450 1)" font-size="13.2" text-anchor="middle" fill="#3fb391">5</text>
<text transform="translate(967.85 544.70) scale(0.6450 1)" font-size="13.2" text-anchor="middle" fill="#27345f">1</text>
<text transform="translate(992.00 513.40) scale(0.6450 1)" font-size="13.2" text-anchor="middle" fill="#3fb391">5</text>
<text transform="translate(992.00 544.70) scale(0.6450 1)" font-size="13.2" text-anchor="middle" fill="#27345f">1</text>
<text transform="translate(1016.15 513.40) scale(0.6450 1)" font-size="13.2" text-anchor="middle" fill="#3fb391">1</text>
<text transform="translate(1016.15 544.70) scale(0.6450 1)" font-size="13.2" text-anchor="middle" fill="#27345f">0</text>
<text transform="translate(1040.30 513.40) scale(0.6450 1)" font-size="13.2" text-anchor="middle" fill="#3fb391">0</text>
<text transform="translate(1040.30 544.70) scale(0.6450 1)" font-size="13.2" text-anchor="middle" fill="#27345f">0</text>
<line x1="-0.40" y1="524.70" x2="70.40" y2="524.70" stroke="#979797" stroke-width="1.25"/>
<line x1="71.60" y1="524.70" x2="94.60" y2="524.70" stroke="#979797" stroke-width="1.25"/>
<line x1="95.80" y1="524.70" x2="118.80" y2="524.70" stroke="#979797" stroke-width="1.25"/>
<line x1="120.00" y1="524.70" x2="143.00" y2="524.70" stroke="#979797" stroke-width="1.25"/>
<line x1="144.20" y1="524.70" x2="167.20" y2="524.70" stroke="#979797" stroke-width="1.25"/>
<line x1="168.40" y1="524.70" x2="191.40" y2="524.70" stroke="#979797" stroke-width="1.25"/>
<line x1="192.60" y1="524.70" x2="215.60" y2="524.70" stroke="#979797" stroke-width="1.25"/>
<line x1="216.80" y1="524.70" x2="239.80" y2="524.70" stroke="#979797" stroke-width="1.25"/>
<line x1="241.00" y1="524.70" x2="264.00" y2="524.70" stroke="#979797" stroke-width="1.25"/>
<line x1="265.20" y1="524.70" x2="288.20" y2="524.70" stroke="#979797" stroke-width="1.25"/>
<line x1="289.40" y1="524.70" x2="312.40" y2="524.70" stroke="#979797" stroke-width="1.25"/>
<line x1="313.60" y1="524.70" x2="336.60" y2="524.70" stroke="#979797" stroke-width="1.25"/>
<line x1="337.80" y1="524.70" x2="360.80" y2="524.70" stroke="#979797" stroke-width="1.25"/>
<line x1="362.00" y1="524.70" x2="384.70" y2="524.70" stroke="#979797" stroke-width="1.25"/>
<line x1="403.30" y1="524.70" x2="426.10" y2="524.70" stroke="#979797" stroke-width="1.25"/>
<line x1="427.30" y1="524.70" x2="450.65" y2="524.70" stroke="#979797" stroke-width="1.25"/>
<line x1="451.85" y1="524.70" x2="475.20" y2="524.70" stroke="#979797" stroke-width="1.25"/>
<line x1="476.40" y1="524.70" x2="499.75" y2="524.70" stroke="#979797" stroke-width="1.25"/>
<line x1="500.95" y1="524.70" x2="524.30" y2="524.70" stroke="#979797" stroke-width="1.25"/>
<line x1="525.50" y1="524.70" x2="548.85" y2="524.70" stroke="#979797" stroke-width="1.25"/>
<line x1="550.05" y1="524.70" x2="573.40" y2="524.70" stroke="#979797" stroke-width="1.25"/>
<line x1="574.60" y1="524.70" x2="597.95" y2="524.70" stroke="#979797" stroke-width="1.25"/>
<line x1="599.15" y1="524.70" x2="622.50" y2="524.70" stroke="#979797" stroke-width="1.25"/>
<line x1="623.70" y1="524.70" x2="647.05" y2="524.70" stroke="#979797" stroke-width="1.25"/>
<line x1="648.25" y1="524.70" x2="671.60" y2="524.70" stroke="#979797" stroke-width="1.25"/>
<line x1="672.80" y1="524.70" x2="696.15" y2="524.70" stroke="#979797" stroke-width="1.25"/>
<line x1="697.35" y1="524.70" x2="720.00" y2="524.70" stroke="#979797" stroke-width="1.25"/>
<line x1="739.70" y1="524.70" x2="762.00" y2="524.70" stroke="#979797" stroke-width="1.25"/>
<line x1="763.20" y1="524.70" x2="786.15" y2="524.70" stroke="#979797" stroke-width="1.25"/>
<line x1="787.35" y1="524.70" x2="810.30" y2="524.70" stroke="#979797" stroke-width="1.25"/>
<line x1="811.50" y1="524.70" x2="834.45" y2="524.70" stroke="#979797" stroke-width="1.25"/>
<line x1="835.65" y1="524.70" x2="858.60" y2="524.70" stroke="#979797" stroke-width="1.25"/>
<line x1="859.80" y1="524.70" x2="882.75" y2="524.70" stroke="#979797" stroke-width="1.25"/>
<line x1="883.95" y1="524.70" x2="906.90" y2="524.70" stroke="#979797" stroke-width="1.25"/>
<line x1="908.10" y1="524.70" x2="931.05" y2="524.70" stroke="#979797" stroke-width="1.25"/>
<line x1="932.25" y1="524.70" x2="955.20" y2="524.70" stroke="#979797" stroke-width="1.25"/>
<line x1="956.40" y1="524.70" x2="979.35" y2="524.70" stroke="#979797" stroke-width="1.25"/>
<line x1="980.55" y1="524.70" x2="1003.50" y2="524.70" stroke="#979797" stroke-width="1.25"/>
<line x1="1004.70" y1="524.70" x2="1027.65" y2="524.70" stroke="#979797" stroke-width="1.25"/>
<line x1="1028.85" y1="524.70" x2="1051.22" y2="524.70" stroke="#979797" stroke-width="1.25"/>
<text transform="translate(33 568.7) scale(0.8298 1)" font-size="11.4" xml:space="preserve"><tspan font-weight="bold" fill="#b01878">Pink</tspan><tspan fill="#2a2a2a"> title indicates secondary endpoint; </tspan><tspan font-weight="bold" fill="#3a589d">blue</tspan><tspan fill="#2a2a2a"> title indicates exploratory endpoints.</tspan></text>
<g id="curves">
<path d="M83.4 239.9 L89.6 239.9 L89.6 260.7 L98.1 260.7 L98.1 264.7 L103.4 264.7 L104.5 267.0 L104.7 289.6 L119.3 289.6 L119.5 294.0 L120.3 299.9 L121.2 301.9 L134.8 301.9 L134.8 315.6 L148.4 315.6 L149.3 319.3 L150.8 322.5 L164.0 322.5 L164.2 332.0 L165.2 336.0 L193.5 336.0 L194.1 340.7 L216.4 340.7 L216.4 347.1 L343.4 347.1 L343.4 449.8" fill="none" stroke="#55c0a2" stroke-width="1.25" stroke-linejoin="miter"/>
<path d="M83.4 240.2 L89.7 240.2 L89.7 281.3 L97.0 282.9 L97.6 293.3 L98.0 314.1 L100.7 322.2 L104.4 324.4 L104.5 332.3 L118.4 332.3 L118.6 341.9 L134.8 341.9 L134.8 355.6 L162.8 355.6 L164.7 360.3 L193.8 360.3 L193.8 372.9 L221.9 372.9 L221.9 385.6 L254.5 385.6" fill="none" stroke="#46568a" stroke-width="1.25" stroke-linejoin="miter"/>
<circle cx="84.9" cy="239.9" r="2.45" fill="#1aa67f"/>
<circle cx="89.6" cy="245.9" r="2.45" fill="#1aa67f"/>
<circle cx="89.7" cy="252.1" r="2.45" fill="#1aa67f"/>
<circle cx="97.0" cy="260.4" r="2.45" fill="#1aa67f"/>
<circle cx="98.2" cy="262.6" r="2.45" fill="#1aa67f"/>
<circle cx="104.7" cy="274.7" r="2.45" fill="#1aa67f"/>
<circle cx="104.7" cy="278.1" r="2.45" fill="#1aa67f"/>
<circle cx="104.7" cy="281.4" r="2.45" fill="#1aa67f"/>
<circle cx="104.8" cy="285.1" r="2.45" fill="#1aa67f"/>
<circle cx="105.2" cy="289.1" r="2.45" fill="#1aa67f"/>
<circle cx="113.3" cy="289.3" r="2.45" fill="#1aa67f"/>
<circle cx="119.3" cy="294.0" r="2.45" fill="#1aa67f"/>
<circle cx="119.7" cy="297.0" r="2.45" fill="#1aa67f"/>
<circle cx="120.3" cy="299.9" r="2.45" fill="#1aa67f"/>
<circle cx="121.2" cy="301.9" r="2.45" fill="#1aa67f"/>
<circle cx="128.9" cy="301.9" r="2.45" fill="#1aa67f"/>
<circle cx="134.3" cy="301.9" r="2.45" fill="#1aa67f"/>
<circle cx="135.0" cy="313.7" r="2.45" fill="#1aa67f"/>
<circle cx="149.3" cy="319.3" r="2.45" fill="#1aa67f"/>
<circle cx="150.8" cy="322.2" r="2.45" fill="#1aa67f"/>
<circle cx="163.7" cy="322.3" r="2.45" fill="#1aa67f"/>
<circle cx="164.2" cy="328.9" r="2.45" fill="#1aa67f"/>
<circle cx="179.3" cy="336.0" r="2.45" fill="#1aa67f"/>
<circle cx="193.3" cy="336.0" r="2.45" fill="#1aa67f"/>
<circle cx="194.1" cy="341.0" r="2.45" fill="#1aa67f"/>
<circle cx="208.6" cy="340.9" r="2.45" fill="#1aa67f"/>
<circle cx="216.4" cy="346.9" r="2.45" fill="#1aa67f"/>
<circle cx="221.9" cy="347.0" r="2.45" fill="#1aa67f"/>
<circle cx="224.4" cy="347.0" r="2.45" fill="#1aa67f"/>
<circle cx="239.0" cy="347.0" r="2.45" fill="#1aa67f"/>
<circle cx="244.4" cy="347.0" r="2.45" fill="#1aa67f"/>
<circle cx="254.5" cy="347.0" r="2.45" fill="#1aa67f"/>
<circle cx="261.5" cy="347.0" r="2.45" fill="#1aa67f"/>
<circle cx="268.1" cy="347.0" r="2.45" fill="#1aa67f"/>
<circle cx="283.3" cy="347.0" r="2.45" fill="#1aa67f"/>
<circle cx="296.6" cy="347.0" r="2.45" fill="#1aa67f"/>
<circle cx="327.1" cy="347.0" r="2.45" fill="#1aa67f"/>
<circle cx="329.2" cy="347.0" r="2.45" fill="#1aa67f"/>
<circle cx="89.7" cy="257.7" r="2.45" fill="#1b2e5e"/>
<circle cx="90.1" cy="281.1" r="2.45" fill="#1b2e5e"/>
<circle cx="97.0" cy="282.9" r="2.45" fill="#1b2e5e"/>
<circle cx="98.0" cy="307.0" r="2.45" fill="#1b2e5e"/>
<circle cx="104.4" cy="324.4" r="2.45" fill="#1b2e5e"/>
<circle cx="104.4" cy="330.4" r="2.45" fill="#1b2e5e"/>
<circle cx="105.5" cy="332.3" r="2.45" fill="#1b2e5e"/>
<circle cx="118.2" cy="332.1" r="2.45" fill="#1b2e5e"/>
<circle cx="119.3" cy="341.9" r="2.45" fill="#1b2e5e"/>
<circle cx="127.4" cy="341.9" r="2.45" fill="#1b2e5e"/>
<circle cx="134.1" cy="341.9" r="2.45" fill="#1b2e5e"/>
<circle cx="135.1" cy="350.8" r="2.45" fill="#1b2e5e"/>
<circle cx="162.7" cy="355.1" r="2.45" fill="#1b2e5e"/>
<circle cx="164.7" cy="360.0" r="2.45" fill="#1b2e5e"/>
<circle cx="179.3" cy="360.1" r="2.45" fill="#1b2e5e"/>
<circle cx="194.1" cy="372.9" r="2.45" fill="#1b2e5e"/>
<circle cx="195.9" cy="372.9" r="2.45" fill="#1b2e5e"/>
<circle cx="210.1" cy="372.9" r="2.45" fill="#1b2e5e"/>
<circle cx="218.5" cy="372.9" r="2.45" fill="#1b2e5e"/>
<circle cx="221.9" cy="385.6" r="2.45" fill="#1b2e5e"/>
<circle cx="238.8" cy="385.6" r="2.45" fill="#1b2e5e"/>
<circle cx="254.5" cy="385.6" r="2.45" fill="#1b2e5e"/>
<path d="M413.6 239.9 L420.9 239.9 L421.1 261.4 L428.1 261.9 L428.3 264.7 L436.4 264.7 L436.4 278.4 L450.3 278.4 L450.7 283.6 L465.6 283.6 L465.6 294.1 L480.6 294.1 L481.1 297.7 L482.6 303.4 L496.1 303.4 L496.3 319.6 L525.6 319.6 L526.5 325.1 L577.5 325.1 L577.5 336.7 L693.0 336.7" fill="none" stroke="#55c0a2" stroke-width="1.25" stroke-linejoin="miter"/>
<path d="M413.6 240.2 L421.0 240.2 L421.2 261.4 L422.5 263.0 L428.4 264.4 L428.5 278.1 L435.9 278.1 L436.1 286.6 L450.4 286.6 L450.7 294.0 L451.2 302.1 L452.0 305.7 L466.3 305.7 L466.4 320.1 L467.6 325.1 L480.9 325.1 L481.0 340.8 L526.4 340.8 L526.4 355.6 L601.1 355.6" fill="none" stroke="#46568a" stroke-width="1.25" stroke-linejoin="miter"/>
<circle cx="421.1" cy="243.2" r="2.45" fill="#1aa67f"/>
<circle cx="421.2" cy="248.5" r="2.45" fill="#1aa67f"/>
<circle cx="428.1" cy="262.1" r="2.45" fill="#1aa67f"/>
<circle cx="435.9" cy="269.0" r="2.45" fill="#1aa67f"/>
<circle cx="436.2" cy="271.4" r="2.45" fill="#1aa67f"/>
<circle cx="436.4" cy="273.8" r="2.45" fill="#1aa67f"/>
<circle cx="444.1" cy="278.4" r="2.45" fill="#1aa67f"/>
<circle cx="450.3" cy="278.4" r="2.45" fill="#1aa67f"/>
<circle cx="450.7" cy="281.4" r="2.45" fill="#1aa67f"/>
<circle cx="457.1" cy="283.6" r="2.45" fill="#1aa67f"/>
<circle cx="460.4" cy="283.6" r="2.45" fill="#1aa67f"/>
<circle cx="464.8" cy="283.3" r="2.45" fill="#1aa67f"/>
<circle cx="465.6" cy="289.6" r="2.45" fill="#1aa67f"/>
<circle cx="466.2" cy="294.6" r="2.45" fill="#1aa67f"/>
<circle cx="480.5" cy="297.4" r="2.45" fill="#1aa67f"/>
<circle cx="481.5" cy="300.4" r="2.45" fill="#1aa67f"/>
<circle cx="482.5" cy="303.1" r="2.45" fill="#1aa67f"/>
<circle cx="496.0" cy="306.6" r="2.45" fill="#1aa67f"/>
<circle cx="496.1" cy="309.7" r="2.45" fill="#1aa67f"/>
<circle cx="496.3" cy="316.4" r="2.45" fill="#1aa67f"/>
<circle cx="496.7" cy="319.6" r="2.45" fill="#1aa67f"/>
<circle cx="505.6" cy="319.6" r="2.45" fill="#1aa67f"/>
<circle cx="510.4" cy="319.6" r="2.45" fill="#1aa67f"/>
<circle cx="512.4" cy="319.6" r="2.45" fill="#1aa67f"/>
<circle cx="525.2" cy="319.6" r="2.45" fill="#1aa67f"/>
<circle cx="526.7" cy="325.1" r="2.45" fill="#1aa67f"/>
<circle cx="540.7" cy="325.1" r="2.45" fill="#1aa67f"/>
<circle cx="554.8" cy="325.1" r="2.45" fill="#1aa67f"/>
<circle cx="557.3" cy="325.1" r="2.45" fill="#1aa67f"/>
<circle cx="571.6" cy="325.1" r="2.45" fill="#1aa67f"/>
<circle cx="587.4" cy="336.7" r="2.45" fill="#1aa67f"/>
<circle cx="594.5" cy="336.7" r="2.45" fill="#1aa67f"/>
<circle cx="601.1" cy="336.7" r="2.45" fill="#1aa67f"/>
<circle cx="616.4" cy="336.7" r="2.45" fill="#1aa67f"/>
<circle cx="630.0" cy="336.7" r="2.45" fill="#1aa67f"/>
<circle cx="662.0" cy="336.7" r="2.45" fill="#1aa67f"/>
<circle cx="663.2" cy="336.7" r="2.45" fill="#1aa67f"/>
<circle cx="677.0" cy="336.7" r="2.45" fill="#1aa67f"/>
<circle cx="693.0" cy="336.7" r="2.45" fill="#1aa67f"/>
<circle cx="421.1" cy="253.3" r="2.45" fill="#1b2e5e"/>
<circle cx="428.5" cy="266.3" r="2.45" fill="#1b2e5e"/>
<circle cx="428.5" cy="273.7" r="2.45" fill="#1b2e5e"/>
<circle cx="429.0" cy="276.7" r="2.45" fill="#1b2e5e"/>
<circle cx="435.9" cy="279.9" r="2.45" fill="#1b2e5e"/>
<circle cx="436.4" cy="285.1" r="2.45" fill="#1b2e5e"/>
<circle cx="436.4" cy="288.1" r="2.45" fill="#1b2e5e"/>
<circle cx="449.3" cy="287.3" r="2.45" fill="#1b2e5e"/>
<circle cx="450.7" cy="294.0" r="2.45" fill="#1b2e5e"/>
<circle cx="451.2" cy="302.1" r="2.45" fill="#1b2e5e"/>
<circle cx="452.0" cy="305.7" r="2.45" fill="#1b2e5e"/>
<circle cx="459.3" cy="305.7" r="2.45" fill="#1b2e5e"/>
<circle cx="461.5" cy="305.7" r="2.45" fill="#1b2e5e"/>
<circle cx="465.4" cy="305.7" r="2.45" fill="#1b2e5e"/>
<circle cx="466.6" cy="320.1" r="2.45" fill="#1b2e5e"/>
<circle cx="468.1" cy="320.1" r="2.45" fill="#1b2e5e"/>
<circle cx="481.0" cy="335.5" r="2.45" fill="#1b2e5e"/>
<circle cx="494.5" cy="341.4" r="2.45" fill="#1b2e5e"/>
<circle cx="511.4" cy="341.4" r="2.45" fill="#1b2e5e"/>
<circle cx="525.9" cy="355.6" r="2.45" fill="#1b2e5e"/>
<circle cx="528.1" cy="355.6" r="2.45" fill="#1b2e5e"/>
<circle cx="541.5" cy="355.6" r="2.45" fill="#1b2e5e"/>
<circle cx="543.4" cy="355.6" r="2.45" fill="#1b2e5e"/>
<circle cx="550.8" cy="355.6" r="2.45" fill="#1b2e5e"/>
<circle cx="556.0" cy="355.6" r="2.45" fill="#1b2e5e"/>
<circle cx="571.9" cy="355.6" r="2.45" fill="#1b2e5e"/>
<circle cx="587.4" cy="355.6" r="2.45" fill="#1b2e5e"/>
<circle cx="601.1" cy="355.6" r="2.45" fill="#1b2e5e"/>
<path d="M748.7 240.0 L755.4 240.0 L756.5 250.3 L762.8 250.5 L765.5 254.4 L770.6 254.4 L770.8 262.9 L778.7 262.9 L781.5 265.6 L784.8 265.6 L785.0 272.1 L814.8 272.1 L815.8 275.2 L816.9 278.1 L830.3 278.1 L830.9 281.4 L859.2 281.4 L859.8 286.1 L889.9 286.1 L890.1 295.0 L920.0 295.0 L920.0 310.2 L1025.5 310.2" fill="none" stroke="#55c0a2" stroke-width="1.25" stroke-linejoin="miter"/>
<path d="M748.7 240.3 L755.4 240.3 L756.2 250.5 L757.5 251.8 L763.0 252.0 L763.6 261.0 L770.7 261.0 L771.0 268.8 L772.0 272.5 L772.6 275.1 L784.0 275.1 L784.3 284.6 L787.5 285.0 L788.8 288.5 L800.5 288.5 L800.6 297.7 L815.2 297.7 L815.5 308.3 L828.8 308.3 L828.9 316.0 L830.2 319.6 L843.6 319.6 L843.8 326.0 L846.8 328.0 L847.0 334.8 L884.5 334.8 L884.5 346.0 L888.1 346.0 L888.1 357.7 L920.3 357.7 L920.3 380.3 L1008.5 380.3" fill="none" stroke="#46568a" stroke-width="1.25" stroke-linejoin="miter"/>
<circle cx="755.4" cy="239.9" r="2.45" fill="#1aa67f"/>
<circle cx="762.8" cy="251.0" r="2.45" fill="#1aa67f"/>
<circle cx="770.6" cy="258.1" r="2.45" fill="#1aa67f"/>
<circle cx="778.7" cy="262.5" r="2.45" fill="#1aa67f"/>
<circle cx="785.0" cy="264.6" r="2.45" fill="#1aa67f"/>
<circle cx="785.0" cy="267.3" r="2.45" fill="#1aa67f"/>
<circle cx="785.1" cy="269.6" r="2.45" fill="#1aa67f"/>
<circle cx="785.7" cy="271.6" r="2.45" fill="#1aa67f"/>
<circle cx="790.4" cy="272.0" r="2.45" fill="#1aa67f"/>
<circle cx="794.2" cy="272.0" r="2.45" fill="#1aa67f"/>
<circle cx="798.8" cy="272.0" r="2.45" fill="#1aa67f"/>
<circle cx="801.0" cy="272.0" r="2.45" fill="#1aa67f"/>
<circle cx="814.9" cy="271.7" r="2.45" fill="#1aa67f"/>
<circle cx="815.8" cy="275.0" r="2.45" fill="#1aa67f"/>
<circle cx="816.8" cy="278.0" r="2.45" fill="#1aa67f"/>
<circle cx="826.5" cy="277.8" r="2.45" fill="#1aa67f"/>
<circle cx="830.2" cy="277.8" r="2.45" fill="#1aa67f"/>
<circle cx="830.9" cy="281.3" r="2.45" fill="#1aa67f"/>
<circle cx="839.5" cy="281.4" r="2.45" fill="#1aa67f"/>
<circle cx="844.0" cy="281.4" r="2.45" fill="#1aa67f"/>
<circle cx="846.0" cy="281.4" r="2.45" fill="#1aa67f"/>
<circle cx="859.1" cy="281.2" r="2.45" fill="#1aa67f"/>
<circle cx="859.8" cy="286.0" r="2.45" fill="#1aa67f"/>
<circle cx="873.9" cy="286.1" r="2.45" fill="#1aa67f"/>
<circle cx="882.0" cy="286.1" r="2.45" fill="#1aa67f"/>
<circle cx="889.4" cy="286.1" r="2.45" fill="#1aa67f"/>
<circle cx="890.3" cy="294.9" r="2.45" fill="#1aa67f"/>
<circle cx="904.1" cy="295.0" r="2.45" fill="#1aa67f"/>
<circle cx="910.0" cy="295.0" r="2.45" fill="#1aa67f"/>
<circle cx="917.3" cy="295.0" r="2.45" fill="#1aa67f"/>
<circle cx="920.2" cy="295.0" r="2.45" fill="#1aa67f"/>
<circle cx="927.0" cy="310.2" r="2.45" fill="#1aa67f"/>
<circle cx="933.8" cy="310.2" r="2.45" fill="#1aa67f"/>
<circle cx="948.6" cy="310.2" r="2.45" fill="#1aa67f"/>
<circle cx="962.2" cy="310.2" r="2.45" fill="#1aa67f"/>
<circle cx="992.6" cy="310.2" r="2.45" fill="#1aa67f"/>
<circle cx="994.8" cy="310.2" r="2.45" fill="#1aa67f"/>
<circle cx="1008.1" cy="310.2" r="2.45" fill="#1aa67f"/>
<circle cx="1025.5" cy="310.2" r="2.45" fill="#1aa67f"/>
<circle cx="756.1" cy="244.4" r="2.45" fill="#1b2e5e"/>
<circle cx="756.2" cy="248.8" r="2.45" fill="#1b2e5e"/>
<circle cx="763.1" cy="253.6" r="2.45" fill="#1b2e5e"/>
<circle cx="763.5" cy="256.2" r="2.45" fill="#1b2e5e"/>
<circle cx="763.9" cy="261.0" r="2.45" fill="#1b2e5e"/>
<circle cx="766.5" cy="261.0" r="2.45" fill="#1b2e5e"/>
<circle cx="770.6" cy="260.7" r="2.45" fill="#1b2e5e"/>
<circle cx="770.9" cy="263.6" r="2.45" fill="#1b2e5e"/>
<circle cx="771.2" cy="268.8" r="2.45" fill="#1b2e5e"/>
<circle cx="772.0" cy="272.0" r="2.45" fill="#1b2e5e"/>
<circle cx="783.8" cy="274.8" r="2.45" fill="#1b2e5e"/>
<circle cx="785.0" cy="284.4" r="2.45" fill="#1b2e5e"/>
<circle cx="787.2" cy="284.8" r="2.45" fill="#1b2e5e"/>
<circle cx="793.1" cy="288.5" r="2.45" fill="#1b2e5e"/>
<circle cx="798.6" cy="288.5" r="2.45" fill="#1b2e5e"/>
<circle cx="800.3" cy="288.5" r="2.45" fill="#1b2e5e"/>
<circle cx="801.1" cy="297.7" r="2.45" fill="#1b2e5e"/>
<circle cx="803.3" cy="297.7" r="2.45" fill="#1b2e5e"/>
<circle cx="814.0" cy="297.7" r="2.45" fill="#1b2e5e"/>
<circle cx="815.9" cy="308.1" r="2.45" fill="#1b2e5e"/>
<circle cx="828.8" cy="313.8" r="2.45" fill="#1b2e5e"/>
<circle cx="830.3" cy="319.5" r="2.45" fill="#1b2e5e"/>
<circle cx="844.8" cy="326.7" r="2.45" fill="#1b2e5e"/>
<circle cx="859.5" cy="334.5" r="2.45" fill="#1b2e5e"/>
<circle cx="862.4" cy="334.5" r="2.45" fill="#1b2e5e"/>
<circle cx="875.2" cy="334.5" r="2.45" fill="#1b2e5e"/>
<circle cx="888.1" cy="357.5" r="2.45" fill="#1b2e5e"/>
<circle cx="904.8" cy="357.5" r="2.45" fill="#1b2e5e"/>
<circle cx="920.3" cy="380.3" r="2.45" fill="#1b2e5e"/>
<circle cx="933.8" cy="380.3" r="2.45" fill="#1b2e5e"/>
<circle cx="1008.5" cy="380.3" r="2.45" fill="#1b2e5e"/>
</g>
<rect x="919" y="558" width="200" height="60" rx="32" ry="32" fill="#fff" stroke="#f5f5f5" stroke-width="2.4"/>
<g id="logo">
<defs><linearGradient id="lgG" x1="0" y1="0" x2="1" y2="1"><stop offset="0" stop-color="#d69a1c"/><stop offset="1" stop-color="#e8a81a"/></linearGradient><linearGradient id="lgM" x1="0" y1="0" x2="0.6" y2="1"><stop offset="0" stop-color="#a80c5e"/><stop offset="1" stop-color="#cf2379"/></linearGradient><linearGradient id="lgP" x1="1" y1="0" x2="0" y2="1"><stop offset="0" stop-color="#8f36cc"/><stop offset="1" stop-color="#b34de6"/></linearGradient></defs>
<path d="M973.37 36.46 C975.10 30.78 977.47 24.47 981.81 21.47 C986.15 18.94 993.26 19.73 997.83 23.84 C994.05 22.10 988.92 21.70 985.76 23.52 C983.00 26.05 981.42 29.60 980.47 32.52 C983.79 34.10 988.13 35.91 992.07 36.78 C987.73 39.46 981.42 38.28 973.37 36.46 Z" fill="url(#lgP)"/>
<path d="M1012.36 1.10 C1014.57 5.52 1015.75 11.84 1013.78 17.76 C1011.41 22.89 1004.31 25.65 999.02 25.10 C1003.52 23.68 1007.07 20.13 1008.25 15.79 C1009.04 12.63 1008.65 9.47 1007.86 6.95 C1004.70 7.26 1001.54 7.73 998.23 8.21 C1002.73 5.13 1008.25 3.55 1012.36 1.10 Z" fill="url(#lgM)"/>
<path d="M979.84 4.34 C986.15 4.58 993.26 4.74 998.39 9.31 C1001.15 14.21 1000.75 19.73 998.94 23.68 C998.39 18.94 996.81 14.60 993.65 12.23 C990.89 10.66 986.94 10.10 984.34 10.26 C984.02 13.42 983.79 17.36 982.68 19.89 C980.63 16.97 980.00 11.05 979.84 4.34 Z" fill="url(#lgG)"/>
<g stroke="#3a1560" stroke-width="0.35" stroke-linejoin="round">
<text transform="translate(994.90 42.70) scale(0.7713 1)" font-size="19.6" font-weight="bold" fill="#3a1560">SERENA</text>
<text transform="translate(1066.40 42.70) scale(0.8532 1)" font-size="19.6" font-weight="bold" fill="#3a1560">6</text>
</g>
<rect x="1059.0" y="36.3" width="5.5" height="1.9" fill="#3a1560"/>
</g>
</svg>
</body></html>
